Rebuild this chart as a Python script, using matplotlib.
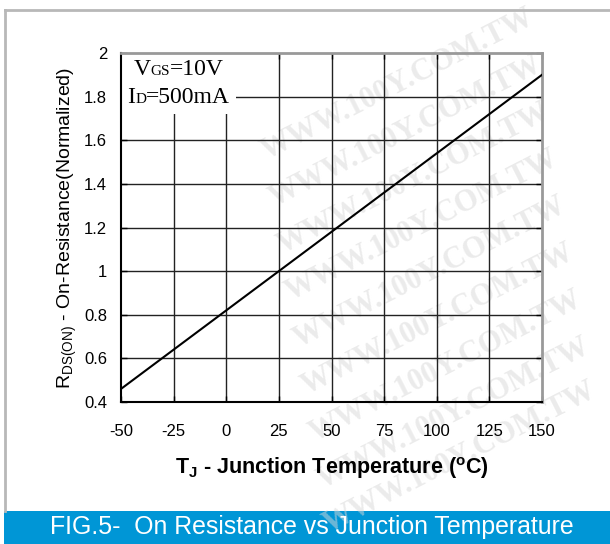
import matplotlib
matplotlib.use('Agg')
import matplotlib.pyplot as plt
from matplotlib import font_manager
from matplotlib.lines import Line2D
from matplotlib.patches import Rectangle
from matplotlib.offsetbox import TextArea, HPacker, VPacker, AnchoredOffsetbox

# values
temps = [-50, -25, 0, 25, 50, 75, 100, 125, 150]
rdson = [0.46, 0.64, 0.82, 1.00, 1.18, 1.36, 1.54, 1.72, 1.90]

x_ticks = [-50, -25, 0, 25, 50, 75, 100, 125, 150]
y_ticks = [0.4, 0.6, 0.8, 1.0, 1.2, 1.4, 1.6, 1.8, 2.0]
y_tick_labels = ['0.4', '0.6', '0.8', '1', '1.2', '1.4', '1.6', '1.8', '2']

names = {f.name for f in font_manager.fontManager.ttflist}
narrow = 'Liberation Sans Narrow' in names

plt.rcParams['font.family'] = 'Liberation Sans'
plt.rcParams['axes.unicode_minus'] = False
plt.rcParams['mathtext.fontset'] = 'custom'
plt.rcParams['mathtext.rm'] = 'Liberation Sans'
plt.rcParams['mathtext.bf'] = 'Liberation Sans:bold'

W, H = 610, 544
fig = plt.figure(figsize=(W / 100, H / 100), dpi=100)
fig.patch.set_facecolor('white')

# frame of the page and blue caption strip
fig.add_artist(Line2D([5 / W, 5 / W], [33 / H, 534 / H], color='#b8b8b8', lw=2))
fig.add_artist(Line2D([5 / W, 1], [534 / H, 534 / H], color='#b8b8b8', lw=2))
fig.add_artist(Rectangle((4 / W, 0), 1, 33 / H, transform=fig.transFigure,
                         facecolor='#0096d6', edgecolor='none', zorder=-2))

# watermark
wm_pos = [(398, 85), (406, 132), (414, 179), (422, 226), (430, 273),
          (438, 320), (446, 367), (454, 414), (460, 458)]
for px, py in wm_pos:
    fig.text(px / W, 1 - py / H, 'WWW.100Y.COM.TW', family='Liberation Serif',
             weight='bold', size=22, color='#d8d8d8', alpha=0.5, rotation=27,
             ha='center', va='center', zorder=-1)

ax = fig.add_axes([121 / W, 142 / H, 421 / W, 349 / H])
ax.set_facecolor('none')

for xv in x_ticks[1:-1]:
    ax.axvline(xv, color='#222222', lw=1.0, zorder=1)
for yv in y_ticks[1:-1]:
    ax.axhline(yv, color='#222222', lw=1.0, zorder=1)

ax.plot(temps, rdson, color='black', lw=1.5, zorder=3)

ax.set_xlim(-50, 150)
ax.set_ylim(0.4, 2.0)
ax.set_xticks(x_ticks)
ax.set_yticks(y_ticks)
ax.set_yticklabels(y_tick_labels)

for side in ['left', 'bottom']:
    ax.spines[side].set_color('black')
    ax.spines[side].set_linewidth(1.5)
for side in ['top', 'right']:
    ax.spines[side].set_color('#999999')
    ax.spines[side].set_linewidth(2)

ax.tick_params(direction='in', length=4, width=1, top=True, right=True,
               labelsize=12)
ax.tick_params(axis='x', pad=16)
ax.tick_params(axis='y', pad=10)

ax.set_xlabel(r'T$_\mathbf{J}$ - Junction Temperature ($\mathbf{^o}$C)',
              fontsize=15.5, fontweight='bold')
ax.xaxis.set_label_coords(0.5, -0.152)
ax.set_ylabel(r'R$_\mathregular{DS(ON)}$ - On-Resistance(Normalized)', fontsize=14)
ax.yaxis.set_label_coords(-0.10, 0.5)


# conditions box in the upper left corner
def cond_line(big, small, rest):
    big_p = dict(family='Liberation Serif', size=17)
    small_p = dict(family='Liberation Serif', size=11)
    return HPacker(children=[TextArea(big, textprops=big_p),
                             TextArea(small, textprops=small_p),
                             TextArea(rest, textprops=big_p)],
                   align='baseline', pad=0, sep=0)


cond = VPacker(children=[cond_line('V', 'GS', '=10V'), cond_line('I', 'D', '=500mA')],
               align='center', pad=0, sep=5)
box = AnchoredOffsetbox(loc='upper left', child=cond, pad=0.45, borderpad=0,
                        frameon=True)
box.patch.set_facecolor('white')
box.patch.set_edgecolor('none')
box.set_zorder(2)
ax.add_artist(box)

fig.text(312 / W, 1 - 527 / H, 'FIG.5-  On Resistance vs Junction Temperature',
         family=['Liberation Sans Narrow', 'Liberation Sans'],
         size=20 if narrow else 17.9, color='white', ha='center', va='center')

fig.savefig('out.png', dpi=100)
